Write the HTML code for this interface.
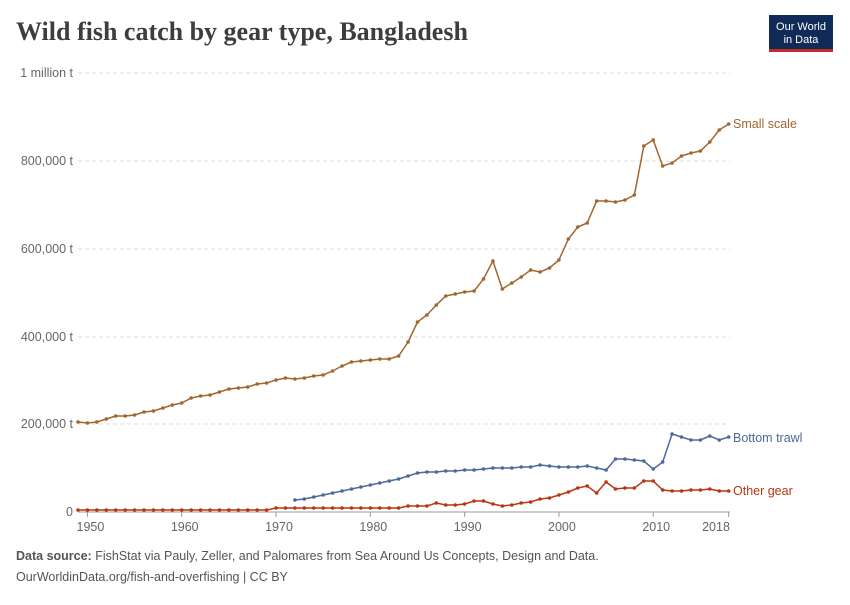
<!DOCTYPE html>
<html><head><meta charset="utf-8"><style>
body{margin:0;background:#fff;font-family:"Liberation Sans",sans-serif;}
</style></head><body>
<svg id="s" width="850" height="600" xmlns="http://www.w3.org/2000/svg" font-family="Liberation Sans, sans-serif">
<text x="16" y="40" font-family="Liberation Serif, serif" font-size="26" font-weight="bold" fill="#3d3d3d">Wild fish catch by gear type, Bangladesh</text>
<rect x="769" y="15" width="64" height="36" fill="#102b58"/>
<rect x="769" y="49" width="64" height="3" fill="#c22c2c"/>
<text x="801" y="30" font-size="11" fill="#fff" text-anchor="middle">Our World</text>
<text x="801" y="43" font-size="11" fill="#fff" text-anchor="middle">in Data</text>
<g font-size="12.5" fill="#666" text-anchor="end">
<text x="73" y="77">1 million t</text><text x="73" y="165">800,000 t</text><text x="73" y="253">600,000 t</text>
<text x="73" y="341">400,000 t</text><text x="73" y="428">200,000 t</text><text x="73" y="516">0</text></g>
<g stroke="#ddd" stroke-dasharray="4,3">
<line x1="78" x2="730" y1="73" y2="73"/><line x1="78" x2="730" y1="161" y2="161"/><line x1="78" x2="730" y1="249" y2="249"/>
<line x1="78" x2="730" y1="337" y2="337"/><line x1="78" x2="730" y1="424" y2="424"/></g>
<line x1="78" x2="730" y1="512" y2="512" stroke="#999"/>
<g id="ticks" font-size="12.5" fill="#666" text-anchor="middle"></g>
<g id="series"></g>
<text x="733" y="128" font-size="12.5" fill="#a2662e">Small scale</text>
<text x="733" y="442" font-size="12.5" fill="#4c6a9c">Bottom trawl</text>
<text x="733" y="495" font-size="12.5" fill="#b9360f">Other gear</text>
<text x="16" y="560" font-size="12.5" fill="#555"><tspan font-weight="bold">Data source:</tspan> FishStat via Pauly, Zeller, and Palomares from Sea Around Us Concepts, Design and Data.</text>
<text x="16" y="581" font-size="12.5" fill="#555">OurWorldinData.org/fish-and-overfishing | CC BY</text>
</svg>
<script>
var X=function(y){return 78+(y-1949)*9.43};
var ns="http://www.w3.org/2000/svg",s=document.getElementById('series'),t=document.getElementById('ticks');
[1950,1960,1970,1980,1990,2000,2010,2018].forEach(function(y){
var l=document.createElementNS(ns,'line');l.setAttribute('x1',X(y));l.setAttribute('x2',X(y));l.setAttribute('y1',512);l.setAttribute('y2',517);l.setAttribute('stroke','#999');t.appendChild(l);
var tx=document.createElementNS(ns,'text');tx.setAttribute('x',y==2018?716:X(y)+3);tx.setAttribute('y',531);tx.textContent=y;t.appendChild(tx);});
var small=[422,423,422,419,416,416,415,412,411,408,405,403,398,396,395,392,389,388,387,384,383,380,378,379,378,376,375,371,366,362,361,360,359,359,356,342,322,315,305,296,294,292,291,279,261,289,283,277,270,272,268,260,239,227,223,201,201,202,200,195,146,140,166,163,156,153,151,142,130,124];
var bt=[500,499,497,495,493,491,489,487,485,483,481,479,476,473,472,472,471,471,470,470,469,468,468,468,467,467,465,466,467,467,467,466,468,470,459,459,460,461,469,462,434,437,440,440,436,440,437];
var og=[];for(var i=1949;i<=2018;i++){og.push(i<1970?510:508);}
var ov={1984:506,1985:506,1986:506,1987:503,1988:505,1989:505,1990:504,1991:501,1992:501,1993:504,1994:506,1995:505,1996:503,1997:502,1998:499,1999:498,2000:495,2001:492,2002:488,2003:486,2004:493,2005:482,2006:489,2007:488,2008:488,2009:481,2010:481,2011:490,2012:491,2013:491,2014:490,2015:490,2016:489,2017:491,2018:491};
for(var k in ov)og[k-1949]=ov[k];
function draw(arr,start,c){var p=arr.map(function(v,i){return X(start+i).toFixed(1)+','+v}).join(' ');
var pl=document.createElementNS(ns,'polyline');pl.setAttribute('points',p);pl.setAttribute('fill','none');pl.setAttribute('stroke',c);pl.setAttribute('stroke-width','1.5');s.appendChild(pl);
arr.forEach(function(v,i){var ci=document.createElementNS(ns,'circle');ci.setAttribute('cx',X(start+i));ci.setAttribute('cy',v);ci.setAttribute('r',1.8);ci.setAttribute('fill',c);s.appendChild(ci);});}
draw(small,1949,'#a2662e');draw(bt,1972,'#4c6a9c');draw(og,1949,'#b9360f');
</script>
</body></html>
